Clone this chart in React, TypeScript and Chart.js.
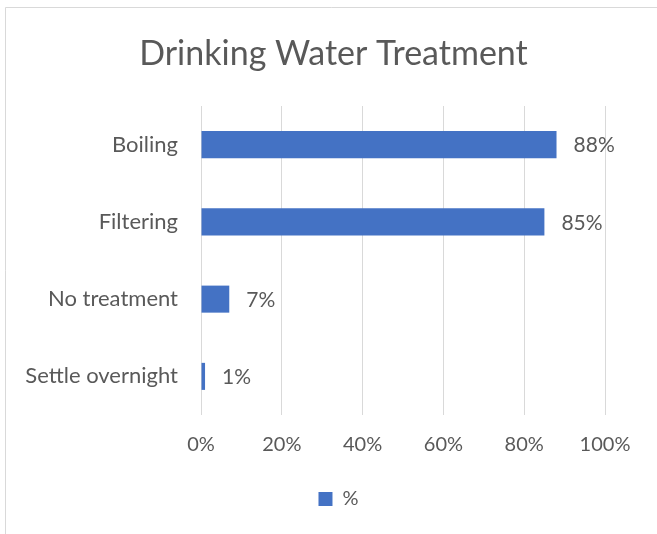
import React, { useEffect, useRef } from "react";
import { Chart, registerables } from "chart.js";

Chart.register(...registerables);

// Share of households using each drinking-water treatment method
const categories = ["Boiling", "Filtering", "No treatment", "Settle overnight"];
const shares = [88, 85, 7, 1];
const seriesName = "%";
const chartTitle = "Drinking Water Treatment";
const tickMin = 0;
const tickMax = 100;
const tickStep = 20;

const FONT = "Lato, 'Open Sans', sans-serif";
const TEXT = "#595959";
const GRID = "#d9d9d9";
const BAR = "#4472C4";

// White background plus the thin frame line along the top and left edges
const framePlugin = {
  id: "frame",
  beforeDraw(chart: any) {
    const ctx = chart.ctx;
    ctx.save();
    ctx.fillStyle = "#ffffff";
    ctx.fillRect(0, 0, chart.width, chart.height);
    ctx.strokeStyle = GRID;
    ctx.lineWidth = 1;
    ctx.beginPath();
    ctx.moveTo(5.5, chart.height);
    ctx.lineTo(5.5, 7.5);
    ctx.lineTo(chart.width, 7.5);
    ctx.stroke();
    ctx.restore();
  },
};

// Nudge the centred legend slightly to the right
const legendShiftPlugin = {
  id: "legendShift",
  afterLayout(chart: any) {
    if (chart.legend) chart.legend.left += 10;
  },
};

// Percentage label to the right of each bar
const valueLabelPlugin = {
  id: "valueLabels",
  afterDatasetsDraw(chart: any) {
    const ctx = chart.ctx;
    const meta = chart.getDatasetMeta(0);
    const values = chart.data.datasets[0].data as number[];
    ctx.save();
    ctx.font = `21px ${FONT}`;
    ctx.fillStyle = TEXT;
    ctx.textAlign = "left";
    ctx.textBaseline = "middle";
    meta.data.forEach((bar: any, i: number) => {
      ctx.fillText(`${values[i]}%`, bar.x + 17, bar.y + 1);
    });
    ctx.restore();
  },
};

export default function App() {
  const canvasRef = useRef<HTMLCanvasElement | null>(null);

  useEffect(() => {
    if (!canvasRef.current) return;
    const chart = new Chart(canvasRef.current, {
      type: "bar",
      data: {
        labels: categories,
        datasets: [
          {
            label: seriesName,
            data: shares,
            backgroundColor: BAR,
            borderWidth: 0,
            categoryPercentage: 1,
            barPercentage: 0.35,
            yAxisID: "y",
          },
        ],
      },
      options: {
        indexAxis: "y",
        responsive: false,
        animation: false,
        devicePixelRatio: 1,
        layout: { padding: { left: 10, right: 0, top: 0, bottom: 15 } },
        scales: {
          y: {
            type: "category",
            position: "left",
            grid: { display: false, drawTicks: false },
            border: { display: false },
            ticks: {
              color: TEXT,
              padding: 23,
              font: { family: FONT, size: 22 },
            },
            afterFit(scale: any) {
              scale.width = 191;
            },
          },
          yRightGap: {
            axis: "y",
            type: "category",
            position: "right",
            grid: { display: false, drawTicks: false },
            border: { display: false },
            ticks: { display: false },
            afterFit(scale: any) {
              scale.width = 52;
            },
          },
          x: {
            type: "linear",
            min: tickMin,
            max: tickMax,
            grid: { color: GRID, lineWidth: 1, drawTicks: false },
            border: { display: false },
            ticks: {
              stepSize: tickStep,
              color: TEXT,
              padding: 18,
              font: { family: FONT, size: 20 },
              callback: (v: any) => `${v}%`,
            },
            afterFit(scale: any) {
              scale.height = 64;
            },
          },
        },
        plugins: {
          title: {
            display: true,
            text: chartTitle,
            color: TEXT,
            font: { family: FONT, size: 34, weight: "normal" },
            padding: { top: 33.6, bottom: 31.6 },
          },
          legend: {
            display: true,
            position: "bottom",
            labels: {
              boxWidth: 14,
              boxHeight: 14,
              color: TEXT,
              padding: 10,
              font: { family: FONT, size: 20 },
            },
          },
          tooltip: { enabled: false },
        },
      } as any,
      plugins: [framePlugin, legendShiftPlugin, valueLabelPlugin],
    });
    return () => chart.destroy();
  }, []);

  return (
    <div style={{ position: "fixed", left: 0, top: 0, width: 657, height: 534, background: "#fff" }}>
      <canvas ref={canvasRef} width={657} height={534} style={{ display: "block" }} />
    </div>
  );
}
